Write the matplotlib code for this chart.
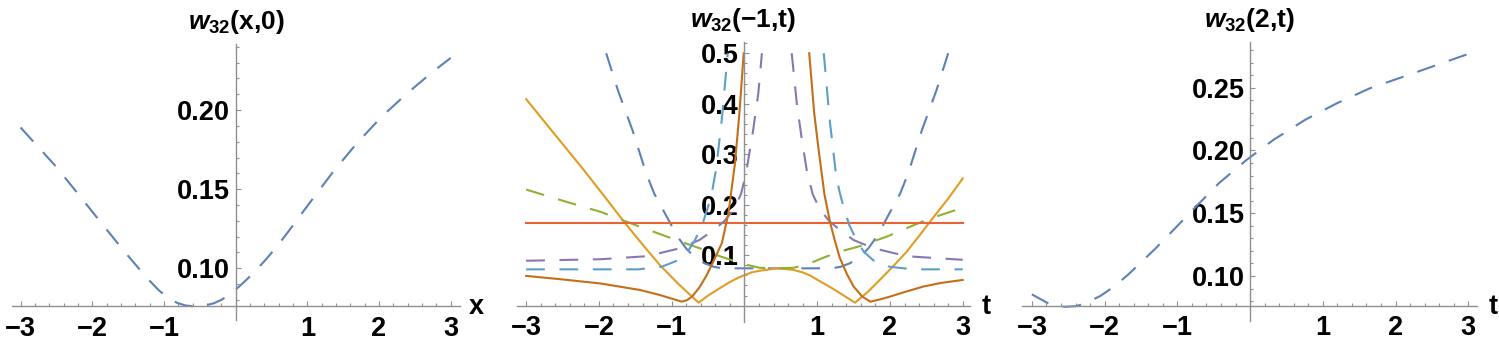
import numpy as np
import matplotlib.pyplot as plt
from matplotlib.ticker import FixedLocator, FuncFormatter

# Mathematica-Farben
c_blue = "#5E81B5"
c_orange = "#E19C24"
c_green = "#8FB032"
c_red = "#EB6235"
c_purple = "#8778B3"
c_brown = "#C56E1A"
c_lblue = "#5D9EC7"
c_axis = "#8f8f8f"

# Panel 1: w32(x,0)
x1 = [-3.0, -2.5, -2.18, -1.88, -1.56, -1.24, -1.07, -0.95, -0.82, -0.7, -0.57, -0.45,
      -0.31, -0.2, -0.09, 0.0, 0.13, 0.28, 0.43, 0.58, 0.74, 0.9, 1.06, 1.36, 1.69, 2.04,
      2.39, 2.73, 3.0]
w1 = [0.189, 0.164, 0.146, 0.129, 0.111, 0.094, 0.086, 0.0815, 0.0782, 0.0765, 0.0758, 0.0762,
      0.0778, 0.0800, 0.0832, 0.0865, 0.0918, 0.0985, 0.106, 0.114, 0.1235, 0.1333, 0.143,
      0.161, 0.179, 0.196, 0.2105, 0.2235, 0.233]

# Panel 2: w32(-1,t), mehrere Kurven
t_blue = [-1.90, -1.74, -1.54, -1.35, -1.24, -0.92, -0.8, -0.69, -0.55, -0.42, -0.3, 0.2,
          0.7, 1.2, 1.32, 1.45, 1.59, 1.7, 1.82, 2.14, 2.25, 2.44, 2.64, 2.80]
w_blue = [0.5, 0.427, 0.348, 0.262, 0.222, 0.137, 0.113, 0.097, 0.084, 0.077, 0.074, 0.074,
          0.074, 0.074, 0.077, 0.084, 0.097, 0.113, 0.137, 0.222, 0.262, 0.348, 0.427, 0.5]

t_orange = [-3, -2.6, -2.21, -1.9, -1.66, -1.4, -1.16, -0.9, -0.63, -0.5, -0.38, -0.2, -0.06,
            0.1, 0.2, 0.45, 0.67, 0.8, 0.9, 1.09, 1.2, 1.31, 1.42, 1.52, 1.7, 1.86, 2.05,
            2.23, 2.4, 2.57, 2.8, 3]
w_orange = [0.409, 0.338, 0.269, 0.212, 0.167, 0.121, 0.08, 0.042, 0.006, 0.02, 0.031, 0.047,
            0.057, 0.066, 0.069, 0.074, 0.071, 0.066, 0.06, 0.044, 0.035, 0.025, 0.015, 0.006,
            0.028, 0.051, 0.079, 0.107, 0.138, 0.17, 0.212, 0.252]

t_green = [-3, -2.5, -1.98, -1.43, -0.88, -0.6, -0.38, -0.15, 0.03, 0.21, 0.45, 0.67, 0.82,
           0.95, 1.12, 1.31, 1.59, 1.96, 2.5, 3]
w_green = [0.23, 0.208, 0.186, 0.156, 0.127, 0.113, 0.10, 0.089, 0.081, 0.075, 0.074, 0.075,
           0.08, 0.087, 0.097, 0.107, 0.118, 0.137, 0.17, 0.194]

t_red = [-3, 3]
w_red = [0.163, 0.163]

t_purple = [-3, -1.98, -1.34, -0.88, -0.62, -0.42, -0.28, -0.15, -0.05, 0.02, 0.12, 0.19, 0.24,
            np.nan,
            0.65, 0.72, 0.79, 0.86, 0.94, 1.04, 1.17, 1.31, 1.5, 1.77, 2.23, 2.87, 3]
w_purple = [0.089, 0.092, 0.098, 0.114, 0.13, 0.15, 0.167, 0.19, 0.22, 0.26, 0.348, 0.42, 0.5,
            np.nan,
            0.5, 0.40, 0.328, 0.265, 0.22, 0.19, 0.167, 0.15, 0.13, 0.114, 0.098, 0.092, 0.091]

t_brown = [-3, -2.5, -1.98, -1.43, -1.16, -1.0, -0.86, -0.79, -0.72, -0.62, -0.52, -0.42, -0.31,
           -0.22, -0.13, -0.07, -0.01, np.nan,
           0.89, 0.96, 1.02, 1.10, 1.18, 1.25, 1.31, 1.41, 1.50, 1.62, 1.73, 1.85, 2.0, 2.2,
           2.46, 2.7, 3]
w_brown = [0.059, 0.052, 0.044, 0.031, 0.021, 0.014, 0.008, 0.011, 0.018, 0.036, 0.06, 0.09,
           0.124, 0.183, 0.282, 0.38, 0.5, np.nan,
           0.5, 0.38, 0.308, 0.22, 0.163, 0.125, 0.095, 0.062, 0.038, 0.018, 0.008, 0.012,
           0.018, 0.027, 0.038, 0.045, 0.051]

t_lblue = [-3, -1.46, -1.14, -0.91, -0.78, -0.68, -0.58, -0.50, -0.44, -0.39, -0.31, -0.23,
           np.nan,
           1.09, 1.17, 1.25, 1.30, 1.36, 1.44, 1.54, 1.64, 1.77, 2.0, 2.32, 3]
w_lblue = [0.072, 0.072, 0.077, 0.09, 0.107, 0.13, 0.16, 0.196, 0.23, 0.27, 0.37, 0.5,
           np.nan,
           0.5, 0.37, 0.27, 0.23, 0.196, 0.16, 0.13, 0.107, 0.09, 0.077, 0.072, 0.072]

# Panel 3: w32(2,t)
x3 = [-3.0, -2.79, -2.65, -2.54, -2.4, -2.29, -2.06, -1.86, -1.67, -1.49, -1.3, -1.12, -0.78,
      -0.43, -0.05, 0.32, 0.76, 1.19, 1.65, 2.11, 2.57, 3.0]
w3 = [0.0854, 0.0787, 0.0763, 0.0755, 0.0760, 0.0777, 0.0841, 0.092, 0.1015, 0.1114, 0.122,
      0.1327, 0.1531, 0.1739, 0.1924, 0.2084, 0.2245, 0.2375, 0.2496, 0.2588, 0.2681, 0.2769]

plt.rcParams['font.family'] = 'Liberation Sans'
plt.rcParams['font.weight'] = 'bold'
plt.rcParams['mathtext.fontset'] = 'custom'
plt.rcParams['mathtext.it'] = 'Liberation Sans:italic:bold'
plt.rcParams['mathtext.rm'] = 'Liberation Sans:bold'

W, H = 1499, 339
fig = plt.figure(figsize=(W / 100, H / 100), dpi=100)


def achsen(box, xlim, ylim, y0, yticks, ylabels, yminor, xname, titel):
    l, t, r, b = box
    ax = fig.add_axes([l / W, 1 - b / H, (r - l) / W, (b - t) / H])
    ax.set_xlim(xlim)
    ax.set_ylim(ylim)
    ax.patch.set_alpha(0)
    ax.spines['top'].set_visible(False)
    ax.spines['right'].set_visible(False)
    ax.spines['left'].set_position(('data', 0))
    ax.spines['bottom'].set_position(('data', y0))
    for s in ['left', 'bottom']:
        ax.spines[s].set_color(c_axis)
        ax.spines[s].set_linewidth(1.0)
    ax.xaxis.set_major_locator(FixedLocator([-3, -2, -1, 1, 2, 3]))
    ax.xaxis.set_minor_locator(FixedLocator([v for v in np.arange(-3, 3.01, 0.2)
                                             if abs(v - round(v)) > 1e-6]))
    ax.xaxis.set_major_formatter(FuncFormatter(lambda v, p: f"{v:.0f}".replace("-", "\u2212")))
    ax.set_yticks(yticks)
    ax.set_yticklabels(ylabels)
    ax.yaxis.set_minor_locator(FixedLocator(yminor))
    ax.tick_params(which='both', direction='in', color=c_axis, labelcolor='black',
                   labelsize=19.5, width=0.8)
    ax.tick_params(which='major', length=3.8)
    ax.tick_params(which='minor', length=2.2)
    ax.tick_params(axis='x', pad=7)
    ax.tick_params(axis='y', pad=4)
    for lab in ax.get_xticklabels() + ax.get_yticklabels():
        lab.set_fontweight('bold')
    ax.annotate(xname, xy=(xlim[1], y0), xytext=(12, -1), textcoords='offset points',
                ha='center', va='center', fontsize=19.5, fontweight='bold', annotation_clip=False)
    ax.text(0.5, 1 + 22 / (b - t), titel, transform=ax.transAxes, ha='center', va='center',
            fontsize=19, fontweight='bold')
    return ax


ax1 = achsen((12, 44, 460, 320), (-3.12, 3.13), (0.0673, 0.2418), 0.0761,
             [0.10, 0.15, 0.20], ["0.10", "0.15", "0.20"],
             [v for v in np.arange(0.08, 0.241, 0.01)],
             "x", "$\\mathit{w}_{\\mathrm{32}}$(x,0)")
ax1.plot(x1, w1, color=c_blue, lw=1.5, dashes=(9, 7))

ax2 = achsen((516.7, 41.7, 970, 321.7), (-3.13, 3.10), (-0.0317, 0.5228), 0.0,
             [0.1, 0.2, 0.3, 0.4, 0.5], ["0.1", "0.2", "0.3", "0.4", "0.5"],
             [v for v in np.arange(0.02, 0.521, 0.02)],
             "t", "$\\mathit{w}_{\\mathrm{32}}$(\u22121,t)")
ax2.plot(t_blue, w_blue, color=c_blue, lw=1.5, dashes=(9, 7))
ax2.plot(t_orange, w_orange, color=c_orange, lw=1.5)
ax2.plot(t_green, w_green, color=c_green, lw=1.5, dashes=(9, 7))
ax2.plot(t_red, w_red, color=c_red, lw=1.5)
ax2.plot(t_purple, w_purple, color=c_purple, lw=1.5, dashes=(9, 7))
ax2.plot(t_brown, w_brown, color=c_brown, lw=1.5)
ax2.plot(t_lblue, w_lblue, color=c_lblue, lw=1.5, dashes=(9, 7))

ax3 = achsen((1021.7, 41.7, 1476.7, 321), (-3.14, 3.115), (0.0642, 0.2866), 0.0764,
             [0.10, 0.15, 0.20, 0.25], ["0.10", "0.15", "0.20", "0.25"],
             [v for v in np.arange(0.08, 0.281, 0.01)],
             "t", "$\\mathit{w}_{\\mathrm{32}}$(2,t)")
ax3.plot(x3, w3, color=c_blue, lw=1.5, dashes=(9, 7))

fig.savefig("out.png", dpi=100)
